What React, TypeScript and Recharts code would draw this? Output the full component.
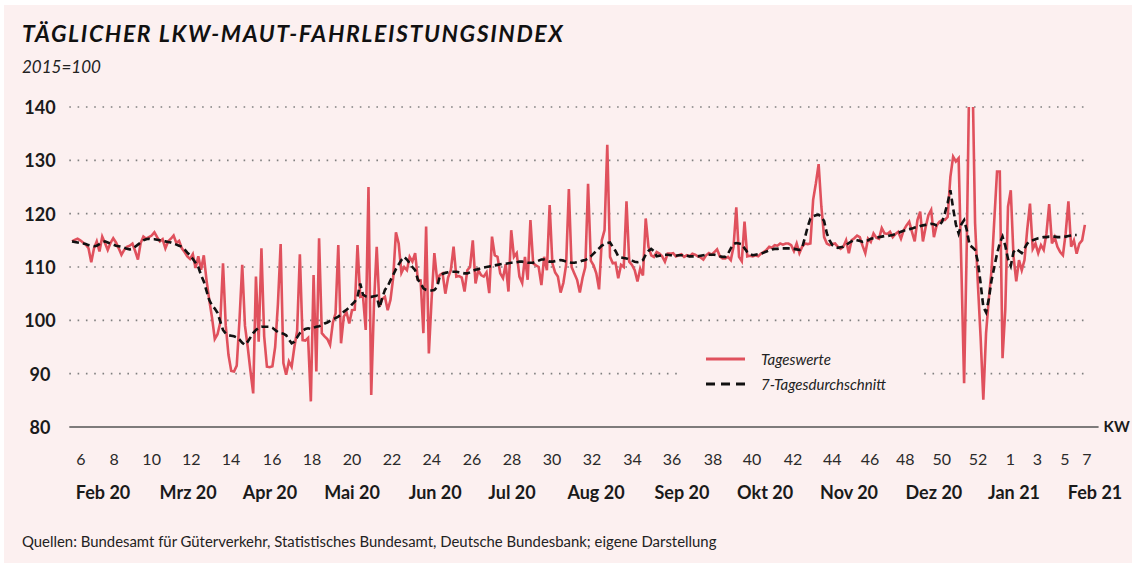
import React from 'react';
import { LineChart, Line, XAxis, YAxis, ReferenceLine } from 'recharts';

// Tageswerte, one value per day starting Mon 3 Feb 2020
const dailyValues = [
  114.8, 115.1, 115.3, 115.0, 114.6, 114.2, 113.5,
  110.9, 113.5, 114.8, 112.9, 115.7, 114.5, 113.2,
  114.5, 115.4, 114.6, 113.5, 112.3, 113.2, 113.8,
  114.0, 114.4, 113.0, 111.4, 114.5, 115.7, 115.3,
  115.6, 115.9, 116.5, 115.6, 114.8, 115.2, 113.5,
  114.8, 115.3, 115.9, 114.5, 114.9, 113.5, 112.8,
  112.0, 111.5, 112.4, 109.8, 112.0, 109.5, 112.2,
  107.5, 103.8, 100.5, 96.5, 97.4, 99.6, 110.7,
  99.0, 93.5, 90.5, 90.4, 91.5, 100.0, 110.4,
  99.0, 95.0, 90.5, 86.3, 108.2, 96.0, 113.5,
  97.0, 91.3, 91.2, 91.4, 95.0, 103.0, 114.3,
  92.0, 89.8, 92.3, 91.3, 95.0, 98.0, 112.4,
  96.3, 96.2, 96.7, 84.8, 108.5, 90.4, 115.4,
  97.6, 97.0, 96.5, 95.4, 99.5, 101.3, 114.1,
  95.7, 100.7, 101.5, 99.4, 101.9, 102.0, 114.1,
  104.4, 104.5, 98.2, 125.0, 86.0, 103.0, 113.8,
  102.6, 104.0, 104.4, 101.9, 103.8, 108.0, 116.5,
  114.4, 108.9, 110.0, 109.4, 111.9, 111.0, 112.6,
  107.6, 107.5, 97.6, 117.6, 93.8, 104.0, 112.6,
  107.6, 108.5, 108.8, 105.0, 108.0, 109.4, 113.8,
  108.2, 108.3, 108.0, 105.4, 109.4, 110.0, 115.0,
  106.9, 109.4, 108.5, 108.2, 109.0, 105.1, 115.7,
  112.2, 111.9, 108.8, 107.9, 110.5, 105.4, 116.9,
  111.9, 112.6, 108.2, 107.0, 111.9, 107.6, 118.8,
  110.7, 110.3, 110.0, 106.6, 111.9, 109.4, 121.6,
  110.7, 109.0, 108.2, 105.2, 107.0, 110.4, 124.6,
  110.0, 108.8, 107.6, 105.2, 108.0, 110.0, 125.6,
  111.2, 110.3, 108.8, 105.8, 115.0, 116.9, 132.9,
  111.9, 110.7, 110.8, 107.9, 110.4, 110.0, 122.3,
  111.0, 110.4, 109.4, 107.3, 109.7, 108.4, 119.1,
  113.8, 112.2, 111.9, 112.8, 112.5, 112.0, 111.0,
  112.5, 112.5, 112.6, 112.0, 112.2, 112.4, 111.9,
  112.2, 112.0, 112.5, 112.3, 112.0, 111.8, 111.4,
  112.2, 112.6, 112.3, 112.8, 113.3, 112.0, 111.6,
  111.6, 111.9, 111.3, 113.8, 121.2, 111.9, 111.1,
  118.5, 112.0, 112.1, 112.0, 112.2, 112.0, 112.5,
  112.8, 113.2, 113.8, 113.6, 114.1, 114.0, 114.4,
  114.2, 114.4, 114.4, 114.1, 113.0, 114.4, 112.6,
  113.8, 114.4, 114.3, 114.4, 122.6, 125.7, 129.3,
  121.3, 115.6, 114.4, 114.1, 114.3, 114.4, 113.8,
  113.4, 113.8, 115.0, 112.6, 115.0, 115.4, 115.9,
  115.6, 114.0, 112.6, 115.3, 114.7, 116.3, 115.5,
  115.3, 117.3, 116.3, 116.2, 116.6, 115.6, 116.2,
  116.6, 115.3, 116.9, 117.8, 118.5, 116.6, 114.8,
  118.8, 120.4, 114.8, 117.5, 119.7, 120.7, 115.6,
  117.8, 118.5, 118.8, 118.8, 119.4, 126.9, 130.7,
  129.8, 130.4, 110.0, 88.2, 115.0, 150.0, 148.0,
  118.2, 107.0, 97.0, 85.1, 97.6, 104.0, 109.4,
  118.8, 127.9, 127.9, 92.9, 102.0, 121.3, 124.4,
  112.0, 107.3, 111.3, 109.4, 111.3, 117.0, 121.9,
  113.4, 114.4, 112.6, 114.1, 113.2, 116.3, 121.8,
  114.4, 115.6, 113.8, 112.8, 112.2, 116.3, 122.3,
  113.8, 115.0, 112.5, 114.4, 115.0, 117.9,
];

// 7-Tagesdurchschnitt (centred, so it stops three days earlier)
const avg7Values = [
  114.8, 114.7, 114.6, 114.5, 114.4, 114.3, 114.1,
  114.0, 113.9, 114.0, 114.3, 114.6, 114.8, 114.6,
  114.4, 114.2, 114.0, 113.9, 113.8, 113.6, 113.4,
  113.3, 113.4, 113.8, 114.2, 114.6, 115.0, 115.2,
  115.3, 115.2, 115.2, 115.1, 115.0, 114.9, 114.8,
  114.7, 114.6, 114.4, 114.2, 114.0, 113.8, 113.3,
  112.7, 112.2, 111.5, 110.8, 110.0, 108.5, 107.3,
  105.5, 103.8, 102.8, 102.2, 101.4, 99.8, 98.2,
  97.5, 97.2, 97.1, 97.0, 96.8, 96.4, 95.8,
  95.4, 96.0, 96.8, 97.6, 98.2, 98.6, 98.8,
  98.8, 98.8, 98.8, 98.6, 98.2, 97.8, 97.6,
  97.5, 97.2, 96.4, 95.7, 96.0, 96.8, 97.6,
  98.0, 98.4, 98.5, 98.4, 98.6, 98.8, 98.9,
  99.1, 99.4, 99.6, 99.9, 100.2, 100.4, 100.7,
  101.1, 101.6, 102.0, 102.4, 103.0, 103.5, 104.4,
  106.9, 104.8, 104.5, 104.4, 104.4, 104.5, 104.6,
  102.3, 104.2, 105.7, 106.4, 107.5, 108.5, 109.6,
  110.5, 111.3, 111.9, 111.4, 110.7, 110.0, 109.4,
  107.6, 107.0, 106.0, 105.7, 105.6, 105.6, 105.7,
  106.2, 108.3, 108.7, 108.9, 109.0, 109.1, 109.1,
  109.1, 109.0, 108.9, 108.8, 108.8, 109.0, 109.3,
  109.5, 109.6, 109.8, 109.9, 110.0, 110.1, 110.2,
  110.3, 110.4, 110.5, 110.6, 110.6, 110.7, 110.8,
  110.8, 110.9, 111.0, 111.0, 110.9, 110.8, 110.8,
  110.8, 111.0, 111.2, 111.4, 111.4, 111.2, 111.0,
  111.0, 111.1, 111.2, 111.3, 111.2, 111.0, 110.9,
  110.8, 110.8, 110.9, 111.0, 111.2, 111.3, 111.6,
  112.0, 112.5, 113.0, 113.5, 114.0, 114.3, 114.5,
  114.6, 113.8, 113.0, 112.0, 111.8, 111.7, 111.6,
  111.4, 111.2, 111.0, 110.9, 111.0, 111.3, 112.3,
  113.0, 113.4, 113.0, 112.0, 112.1, 112.2, 112.3,
  112.3, 112.2, 112.2, 112.1, 112.2, 112.2, 112.2,
  112.1, 112.0, 112.0, 112.0, 112.0, 112.1, 112.2,
  112.3, 112.3, 112.3, 112.3, 112.2, 112.0, 111.9,
  111.9, 112.5, 113.5, 114.3, 114.5, 114.4, 114.3,
  113.5, 112.8, 112.4, 112.2, 112.3, 112.4, 112.5,
  112.7, 112.9, 113.1, 113.3, 113.4, 113.4, 113.5,
  113.5, 113.5, 113.5, 113.5, 113.4, 113.3, 113.2,
  113.6, 115.5, 117.5, 119.1, 119.5, 119.7, 119.8,
  119.4, 118.6, 116.3, 115.0, 114.1, 113.8, 113.6,
  113.7, 113.8, 114.1, 114.5, 114.8, 115.1, 115.0,
  114.9, 114.7, 114.8, 115.0, 115.3, 115.4, 115.5,
  115.6, 115.7, 115.8, 115.8, 115.9, 116.0, 116.2,
  116.4, 116.6, 116.8, 117.0, 117.1, 117.2, 117.4,
  117.5, 117.7, 117.8, 117.9, 118.0, 118.1, 118.0,
  117.8, 117.8, 118.5, 120.1, 122.0, 124.4, 121.0,
  118.0, 116.3, 118.0, 118.8, 116.9, 114.1, 113.7,
  113.2, 111.0, 107.0, 102.5, 101.5, 104.0, 107.5,
  110.0, 112.5, 114.5, 115.7, 114.0, 111.5, 110.2,
  112.8, 113.4, 113.0, 112.6, 113.5, 114.4, 114.8,
  115.0, 115.2, 115.4, 115.5, 115.6, 115.6, 115.7,
  115.7, 115.7, 115.6, 115.6, 115.6, 115.7, 115.8,
  115.9, 116.0, 116.0,
];

// calendar-week labels and where they sit on the day axis
const weekLabels = ['6', '8', '10', '12', '14', '16', '18', '20', '22', '24', '26', '28', '30', '32', '34', '36', '38', '40', '42', '44', '46', '48', '50', '52', '1', '3', '5', '7'];
const weekTickDays = [3.2, 15.3, 29, 43.4, 57.9, 72.9, 87.4, 102, 116.6, 131.1, 145.7, 160.3, 174.9, 189.4, 204.2, 218.6, 233.5, 247.7, 262.7, 277, 290.7, 303.6, 316.9, 330.1, 341.9, 351.7, 361.7, 369.7];

const monthLabels = ['Feb 20', 'Mrz 20', 'Apr 20', 'Mai 20', 'Jun 20', 'Jul 20', 'Aug 20', 'Sep 20', 'Okt 20', 'Nov 20', 'Dez 20', 'Jan 21', 'Feb 21'];
const monthTickDays = [11.3, 42.3, 72.1, 102, 132.3, 160.3, 190.9, 222.2, 252.5, 283.1, 314, 343.2, 372.7];

const yTicks = [80, 90, 100, 110, 120, 130, 140];
const gridValues = [90, 100, 110, 120, 130, 140];

const rows = dailyValues.map((v, i) => ({
  day: i,
  tageswerte: v,
  avg7: i < avg7Values.length ? avg7Values[i] : null,
}));

const BG = '#fcf0f0';
const RED = '#e0515d';
const FONT = 'Lato, "Open Sans", sans-serif';

const YTick = ({ y, payload }: any) => (
  <text x={40} y={y} textAnchor="middle" dominantBaseline="central" fontFamily={FONT} fontWeight={700} fontSize={18} fill="#1a1a1a">
    {payload.value}
  </text>
);

const WeekTick = ({ x, y, payload }: any) => {
  const idx = weekTickDays.indexOf(payload.value);
  return (
    <text x={x} y={y + 36} textAnchor="middle" fontFamily={FONT} fontSize={16} fill="#2a2a2a">
      {weekLabels[idx]}
    </text>
  );
};

const MonthTick = ({ x, y, payload }: any) => {
  const idx = monthTickDays.indexOf(payload.value);
  return (
    <text x={x} y={y + 40} textAnchor="middle" fontFamily={FONT} fontWeight={700} fontSize={18} fill="#1a1a1a">
      {monthLabels[idx]}
    </text>
  );
};

const ChartLegend = () => (
  <div style={{ position: 'absolute', left: 677, top: 341, width: 246, height: 58, background: BG, fontFamily: FONT, fontStyle: 'italic', fontSize: 15, color: '#222' }}>
    <svg width={70} height={58} style={{ position: 'absolute', left: 0, top: 0 }}>
      <line x1={29} x2={68} y1={18} y2={18} stroke={RED} strokeWidth={3} />
      <line x1={29} x2={68} y1={43} y2={43} stroke="#111" strokeWidth={3} strokeDasharray="9 6" />
    </svg>
    <div style={{ position: 'absolute', left: 84, top: 8, lineHeight: '20px' }}>Tageswerte</div>
    <div style={{ position: 'absolute', left: 84, top: 33, lineHeight: '20px' }}>7-Tagesdurchschnitt</div>
  </div>
);

export default function App() {
  return (
    <div style={{ position: 'absolute', left: 0, top: 0, width: 1132, height: 563, background: '#fff', overflow: 'hidden' }}>
      <div style={{ position: 'absolute', left: 4, top: 5, width: 1128, height: 558, background: BG }} />
      <div style={{ position: 'absolute', left: 22, top: 22, fontFamily: FONT, fontWeight: 700, fontStyle: 'italic', fontSize: 23, lineHeight: '23px', letterSpacing: 1.6, color: '#111' }}>
        TÄGLICHER LKW-MAUT-FAHRLEISTUNGSINDEX
      </div>
      <div style={{ position: 'absolute', left: 22, top: 58, fontFamily: FONT, fontStyle: 'italic', fontSize: 17, lineHeight: '17px', color: '#222' }}>
        2015=100
      </div>
      <div style={{ position: 'absolute', left: 22, top: 534, fontFamily: FONT, fontSize: 14.9, lineHeight: '15px', color: '#222' }}>
        Quellen: Bundesamt für Güterverkehr, Statistisches Bundesamt, Deutsche Bundesbank; eigene Darstellung
      </div>
      <div style={{ position: 'absolute', left: 0, top: 0 }}>
        <LineChart width={1132} height={563} data={rows} margin={{ top: 107, right: 33.4, bottom: 72, left: 0.3 }}>
          <XAxis
            xAxisId="b"
            dataKey="day"
            type="number"
            domain={[-1, 374]}
            allowDataOverflow
            ticks={monthTickDays}
            interval={0}
            tick={<MonthTick />}
            tickLine={false}
            axisLine={false}
            tickSize={0}
            height={34}
          />
          <XAxis
            xAxisId="a"
            dataKey="day"
            type="number"
            domain={[-1, 374]}
            allowDataOverflow
            ticks={weekTickDays}
            interval={0}
            tick={<WeekTick />}
            tickLine={false}
            axisLine={false}
            tickSize={0}
            height={30}
          />
          <YAxis
            type="number"
            domain={[80, 140]}
            ticks={yTicks}
            allowDataOverflow
            interval={0}
            width={69}
            tick={<YTick />}
            tickLine={false}
            axisLine={false}
          />
          {gridValues.map((v) => (
            <ReferenceLine
              key={v}
              xAxisId="a"
              segment={[{ x: -1, y: v }, { x: 370, y: v }]}
              stroke="#808080"
              strokeWidth={1.6}
              strokeDasharray="1.6 6.7"
            />
          ))}
          <ReferenceLine
            xAxisId="a"
            segment={[{ x: -1, y: 80 }, { x: 374, y: 80 }]}
            stroke="#555"
            strokeWidth={1.5}
            label={{ value: 'KW', position: 'right', offset: 5, fill: '#1a1a1a', fontSize: 15, fontWeight: 700, fontFamily: FONT }}
          />
          <Line
            xAxisId="a"
            type="linear"
            dataKey="tageswerte"
            name="Tageswerte"
            stroke={RED}
            strokeWidth={2.6}
            dot={false}
            isAnimationActive={false}
          />
          <Line
            xAxisId="a"
            type="linear"
            dataKey="avg7"
            name="7-Tagesdurchschnitt"
            stroke="#111"
            strokeWidth={2.6}
            strokeDasharray="7 4"
            dot={false}
            connectNulls={false}
            isAnimationActive={false}
          />
        </LineChart>
      </div>
      <ChartLegend />
    </div>
  );
}
